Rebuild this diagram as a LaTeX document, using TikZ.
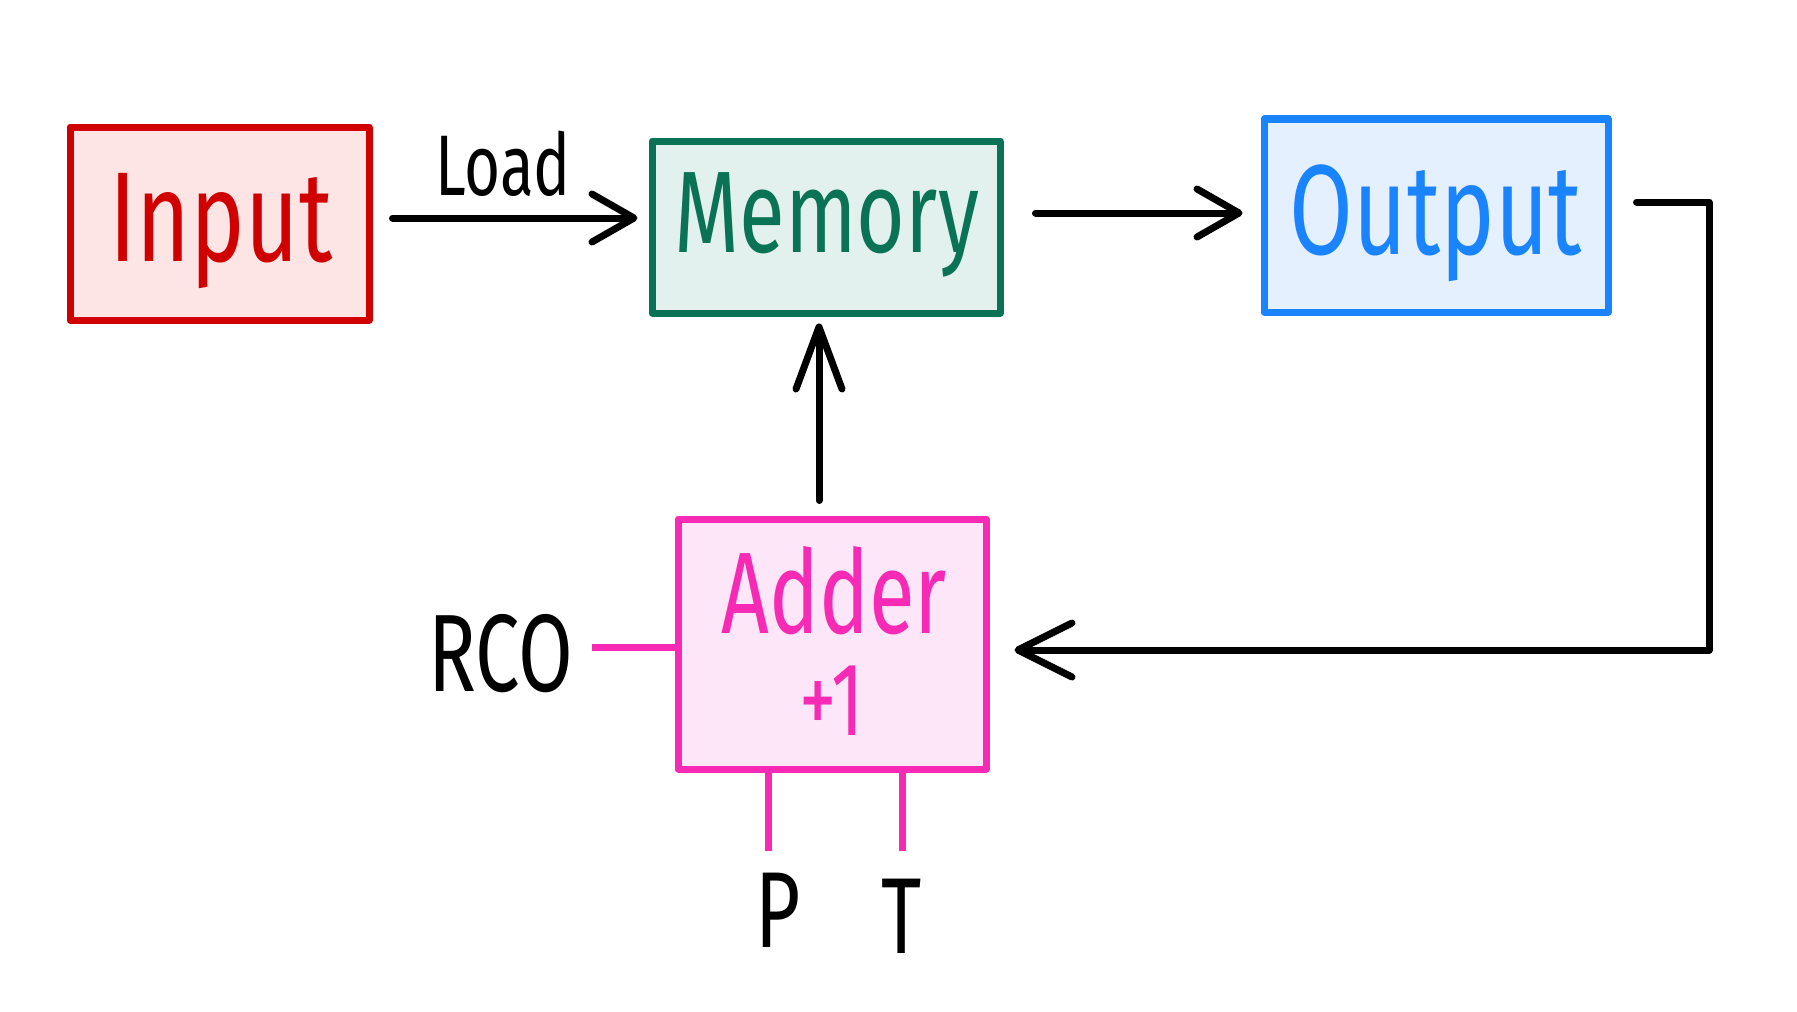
\documentclass[tikz,border=0pt]{standalone}
\usepackage{fontspec}
\setmainfont{Fira Sans}[FakeStretch=0.72]
\usetikzlibrary{arrows.meta}
\definecolor{inred}{HTML}{D00000}
\definecolor{infill}{HTML}{FDE5E5}
\definecolor{memgreen}{HTML}{0B7355}
\definecolor{memfill}{HTML}{E3F1EE}
\definecolor{outblue}{HTML}{1A84FF}
\definecolor{outfill}{HTML}{E4F0FD}
\definecolor{addpink}{HTML}{F72AB6}
\definecolor{addfill}{HTML}{FDE6F7}
\tikzset{
  box/.style={draw, line width=3.5pt, inner sep=0pt, line join=round},
  txt/.style={anchor=base, inner sep=0pt},
  wire/.style={line width=3.5pt, line cap=round, line join=round},
  arr/.style={wire, -{Straight Barb[length=21pt,width=24pt,round]}},
}
\newcommand{\fs}[1]{\fontsize{#1pt}{#1pt}\selectfont}
\begin{document}
\begin{tikzpicture}[x=0.5pt,y=-0.5pt]
\useasboundingbox[fill=white] (0,0) rectangle (1797,1011);
% boxes
\node[box, draw=inred, fill=infill, minimum width=149.5pt, minimum height=96.5pt] (in) at (219.5,223.5) {};
\node[box, draw=memgreen, fill=memfill, minimum width=174pt, minimum height=86pt] (mem) at (826,227) {};
\node[box, draw=outblue, fill=outfill, minimum width=172pt, minimum height=96.5pt] (out) at (1436,215.5) {};
\node[box, draw=addpink, fill=addfill, minimum width=154pt, minimum height=125pt] (add) at (832,644) {};
% texts
\node[txt, text=inred] (intxt) at (221,261) {\fs{64}Input};
\node[txt, text=memgreen] (memtxt) at (827,252) {\fs{58}Memory};
\node[txt, text=outblue] (outtxt) at (1436,254) {\fs{64}Output};
\node[txt, text=addpink] (addtxt) at (834,633) {\fs{58}Adder};
\node[txt, text=addpink] (plustxt) at (832,735) {\fs{52}+1};
\node[txt] (load) at (503,195) {\fs{43}Load};
\node[txt] (rco) at (501,691) {\fs{55}RCO};
\node[txt] (p) at (778,947) {\fs{54}P};
\node[txt] (t) at (902,953) {\fs{54}T};
% coordinates
\coordinate (c1) at (1709,202);
\coordinate (c2) at (1709,650);
\coordinate (rcoend) at (592,647);
\coordinate (pend) at (768,851);
\coordinate (tend) at (902,851);
% connectors
\draw[arr, shorten <=10pt, shorten >=5.5pt] ([yshift=2.75pt]in.east) -- ([yshift=2.75pt]in.east -| mem.west);
\draw[arr, shorten <=16pt, shorten >=9pt] ([yshift=7pt]mem.east) -- ([yshift=7pt]mem.east -| out.west);
\draw[wire, -{Straight Barb[length=31pt,width=23pt,round]}, shorten <=7.5pt, shorten >=3.5pt] ([xshift=-6.5pt]add.north) -- ([xshift=-6.5pt]add.north |- mem.south);
\draw[wire, -{Straight Barb[length=27pt,width=27pt,round]}, shorten <=12.5pt, shorten >=12.5pt] ([yshift=6.75pt]out.east) -- (c1) -- (c2) -- ([yshift=-3pt]add.east);
\draw[wire, draw=addpink, line cap=butt] ([yshift=-1.5pt]add.west) -- (rcoend);
\draw[wire, draw=addpink, line cap=butt] (pend |- add.south) -- (pend);
\draw[wire, draw=addpink, line cap=butt] (tend |- add.south) -- (tend);
\end{tikzpicture}
\end{document}
